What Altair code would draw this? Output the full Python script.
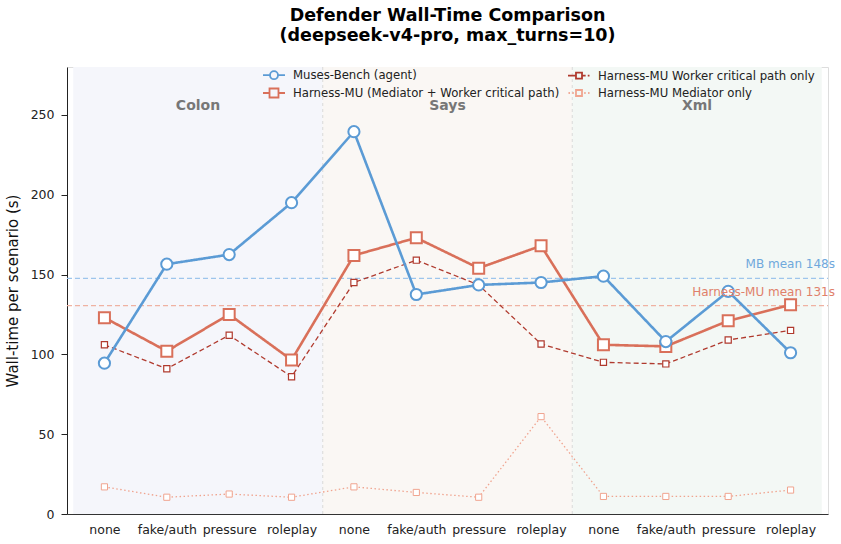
import json

import altair as alt
import pandas as pd

# Scenario layout: three delimiter formats x four attack styles
groups = ["Colon", "Says", "Xml"]
attacks = ["none", "fake/auth", "pressure", "roleplay"]
group_fills = ["#F5F6FB", "#FAF7F4", "#F3F8F5"]

# Wall-time per scenario (seconds), in order Colon(none..roleplay), Says(...), Xml(...)
muses_bench = [94.5, 156.5, 162.5, 195, 239.5, 137.5, 143.5, 145, 149, 108, 139.5, 101]
harness_total = [123, 102, 125, 96.5, 162, 173, 154, 168, 106, 105, 121, 131]
harness_worker = [106, 91, 112, 86, 145, 159, 143.5, 106.5, 95, 94, 109, 115]
harness_mediator = [17, 10.5, 12.5, 10.5, 17, 13.5, 10.5, 61, 11, 11, 11, 15]

MB = "Muses-Bench (agent)"
HT = "Harness-MU (Mediator + Worker critical path)"
HW = "Harness-MU Worker critical path only"
HM = "Harness-MU Mediator only"

FONT = "DejaVu Sans"
W, H = 761, 447

rows = []
for name, vals in [(MB, muses_bench), (HT, harness_total), (HW, harness_worker), (HM, harness_mediator)]:
    for i, v in enumerate(vals):
        rows.append({"series": name, "idx": i, "group": groups[i // 4],
                     "attack": attacks[i % 4], "value": v})
df = pd.DataFrame(rows)

bands = pd.DataFrame({
    "group": groups,
    "start": [g * 4 - 0.5 for g in range(len(groups))],
    "end": [g * 4 + 3.5 for g in range(len(groups))],
    "mid": [g * 4 + 1.5 for g in range(len(groups))],
    "fill": group_fills,
})
separators = pd.DataFrame({"x": [g * 4 - 0.5 for g in range(1, len(groups))]})

mb_mean = sum(muses_bench) / len(muses_bench)
ht_mean = sum(harness_total) / len(harness_total)
means = pd.DataFrame({
    "mean": [mb_mean, ht_mean],
    "label": [f"MB mean {mb_mean:.0f}s", f"Harness-MU mean {ht_mean:.0f}s"],
    "line": ["#9EC5EC", "#EFB2A2"],
    "text": ["#6FA8DC", "#E0806A"],
})

x_enc = alt.X("idx:Q",
              scale=alt.Scale(domain=[-0.6, 11.6], nice=False, zero=False),
              axis=alt.Axis(values=list(range(12)),
                            labelExpr=f"{json.dumps(attacks)}[datum.value % 4]",
                            title=None, grid=False, ticks=False, labelPadding=9,
                            labelFontSize=12.5, labelFont=FONT, labelColor="#222",
                            domainColor="#333", domainWidth=1.2))
y_enc = alt.Y("value:Q",
              scale=alt.Scale(domain=[0, 280], nice=False),
              axis=alt.Axis(values=[0, 50, 100, 150, 200, 250],
                            title="Wall-time per scenario (s)", titleFontSize=15,
                            titleFont=FONT, titleFontWeight="normal", titleColor="#111",
                            titlePadding=10, grid=False, tickSize=6, tickColor="#222",
                            labelPadding=7, labelFontSize=12.5, labelFont=FONT,
                            labelColor="#222", domainColor="#222", domainWidth=1))

base = alt.Chart(df)

band_rect = alt.Chart(bands).mark_rect().encode(
    x=alt.X("start:Q"), x2="end:Q",
    y=alt.value(0), y2=alt.value(H),
    color=alt.Color("fill:N", scale=None),
)
band_sep = alt.Chart(separators).mark_rule(color="#DADADA", strokeDash=[3, 3], strokeWidth=1).encode(
    x="x:Q", y=alt.value(0), y2=alt.value(H))
band_text = alt.Chart(bands).mark_text(font=FONT, fontSize=14, fontWeight="bold", color="#777").encode(
    x="mid:Q", y=alt.value(39), text="group:N")

mean_rules = alt.Chart(means).mark_rule(strokeDash=[5, 3], strokeWidth=1.1).encode(
    y=alt.Y("mean:Q"), x=alt.value(0), x2=alt.value(W),
    color=alt.Color("line:N", scale=None))
mean_text = alt.Chart(means).mark_text(font=FONT, fontSize=12, align="right", dy=-14).encode(
    y=alt.Y("mean:Q"), x=alt.value(W + 7), text="label:N",
    color=alt.Color("text:N", scale=None))

styles = {
    MB: dict(color="#5B9BD5", width=2.6, dash=[1, 0], shape="circle", size=125, sw=2.0),
    HT: dict(color="#D9705A", width=2.6, dash=[1, 0], shape="square", size=121, sw=2.0),
    HW: dict(color="#B03A2E", width=1.3, dash=[5, 3], shape="square", size=38, sw=1.2),
    HM: dict(color="#F0A48F", width=1.3, dash=[1.5, 2.5], shape="square", size=38, sw=1.0),
}

series_layers = []
for name in [HM, HW, HT, MB]:
    st = styles[name]
    sub = base.transform_filter(alt.datum.series == name)
    series_layers.append(
        sub.mark_line(color=st["color"], strokeWidth=st["width"], strokeDash=st["dash"])
        .encode(x=x_enc, y=y_enc, order="idx:Q"))
    series_layers.append(
        sub.mark_point(shape=st["shape"], size=st["size"], filled=True, fill="white",
                       stroke=st["color"], strokeWidth=st["sw"], opacity=1)
        .encode(x=x_enc, y=y_enc))

# Legend: line + marker glyphs per series (entries fill column by column)
legend_order = [MB, HT, HW, HM]
glyphs = {
    MB: "M-1.57,0H-0.57M0.57,0H1.57M0.57,0A0.57,0.57,0,1,1,-0.57,0A0.57,0.57,0,1,1,0.57,0Z",
    HT: "M-1.57,0H-0.64M0.64,0H1.57M-0.64,-0.64H0.64V0.64H-0.64Z",
    HW: "M-1.57,0H-0.43M0.43,0H0.95M1.25,0H1.5M-0.43,-0.43H0.43V0.43H-0.43Z",
    HM: "M-1.5,0H-1.3M-0.95,0H-0.75M0.75,0H0.95M1.3,0H1.5M-0.43,-0.43H0.43V0.43H-0.43Z",
}
legend = alt.Legend(title=None, orient="none", legendX=199, legendY=0, columns=2,
                    columnPadding=4, rowPadding=1, padding=0, labelOffset=11,
                    labelLimit=400, labelFont=FONT, labelFontSize=11.7, labelColor="#222",
                    symbolSize=196, symbolOpacity=1, symbolFillColor="white",
                    symbolStrokeWidth=1.8)
legend_layer = base.mark_point(clip=True, filled=False).encode(
    x=alt.value(-200), y=alt.value(-200),
    stroke=alt.Stroke("series:N", legend=legend,
                      scale=alt.Scale(domain=legend_order,
                                      range=[styles[s]["color"] for s in legend_order])),
    shape=alt.Shape("series:N", legend=legend,
                    scale=alt.Scale(domain=legend_order,
                                    range=[glyphs[s] for s in legend_order])),
)

chart = alt.layer(
    band_rect, band_sep, mean_rules, *series_layers, band_text, mean_text, legend_layer
).properties(
    width=W, height=H,
    title=alt.TitleParams(["Defender Wall-Time Comparison", "(deepseek-v4-pro, max_turns=10)"],
                          font=FONT, fontSize=17.5, fontWeight="bold", color="#000",
                          anchor="middle", frame="group", offset=22, lineHeight=20),
    autosize=alt.AutoSizeParams(type="none"),
    padding={"left": 67, "top": 67, "right": 13, "bottom": 30},
).configure_view(stroke=None).configure(background="white")

chart.save("out.html", embed_options={"renderer": "svg", "actions": False})
